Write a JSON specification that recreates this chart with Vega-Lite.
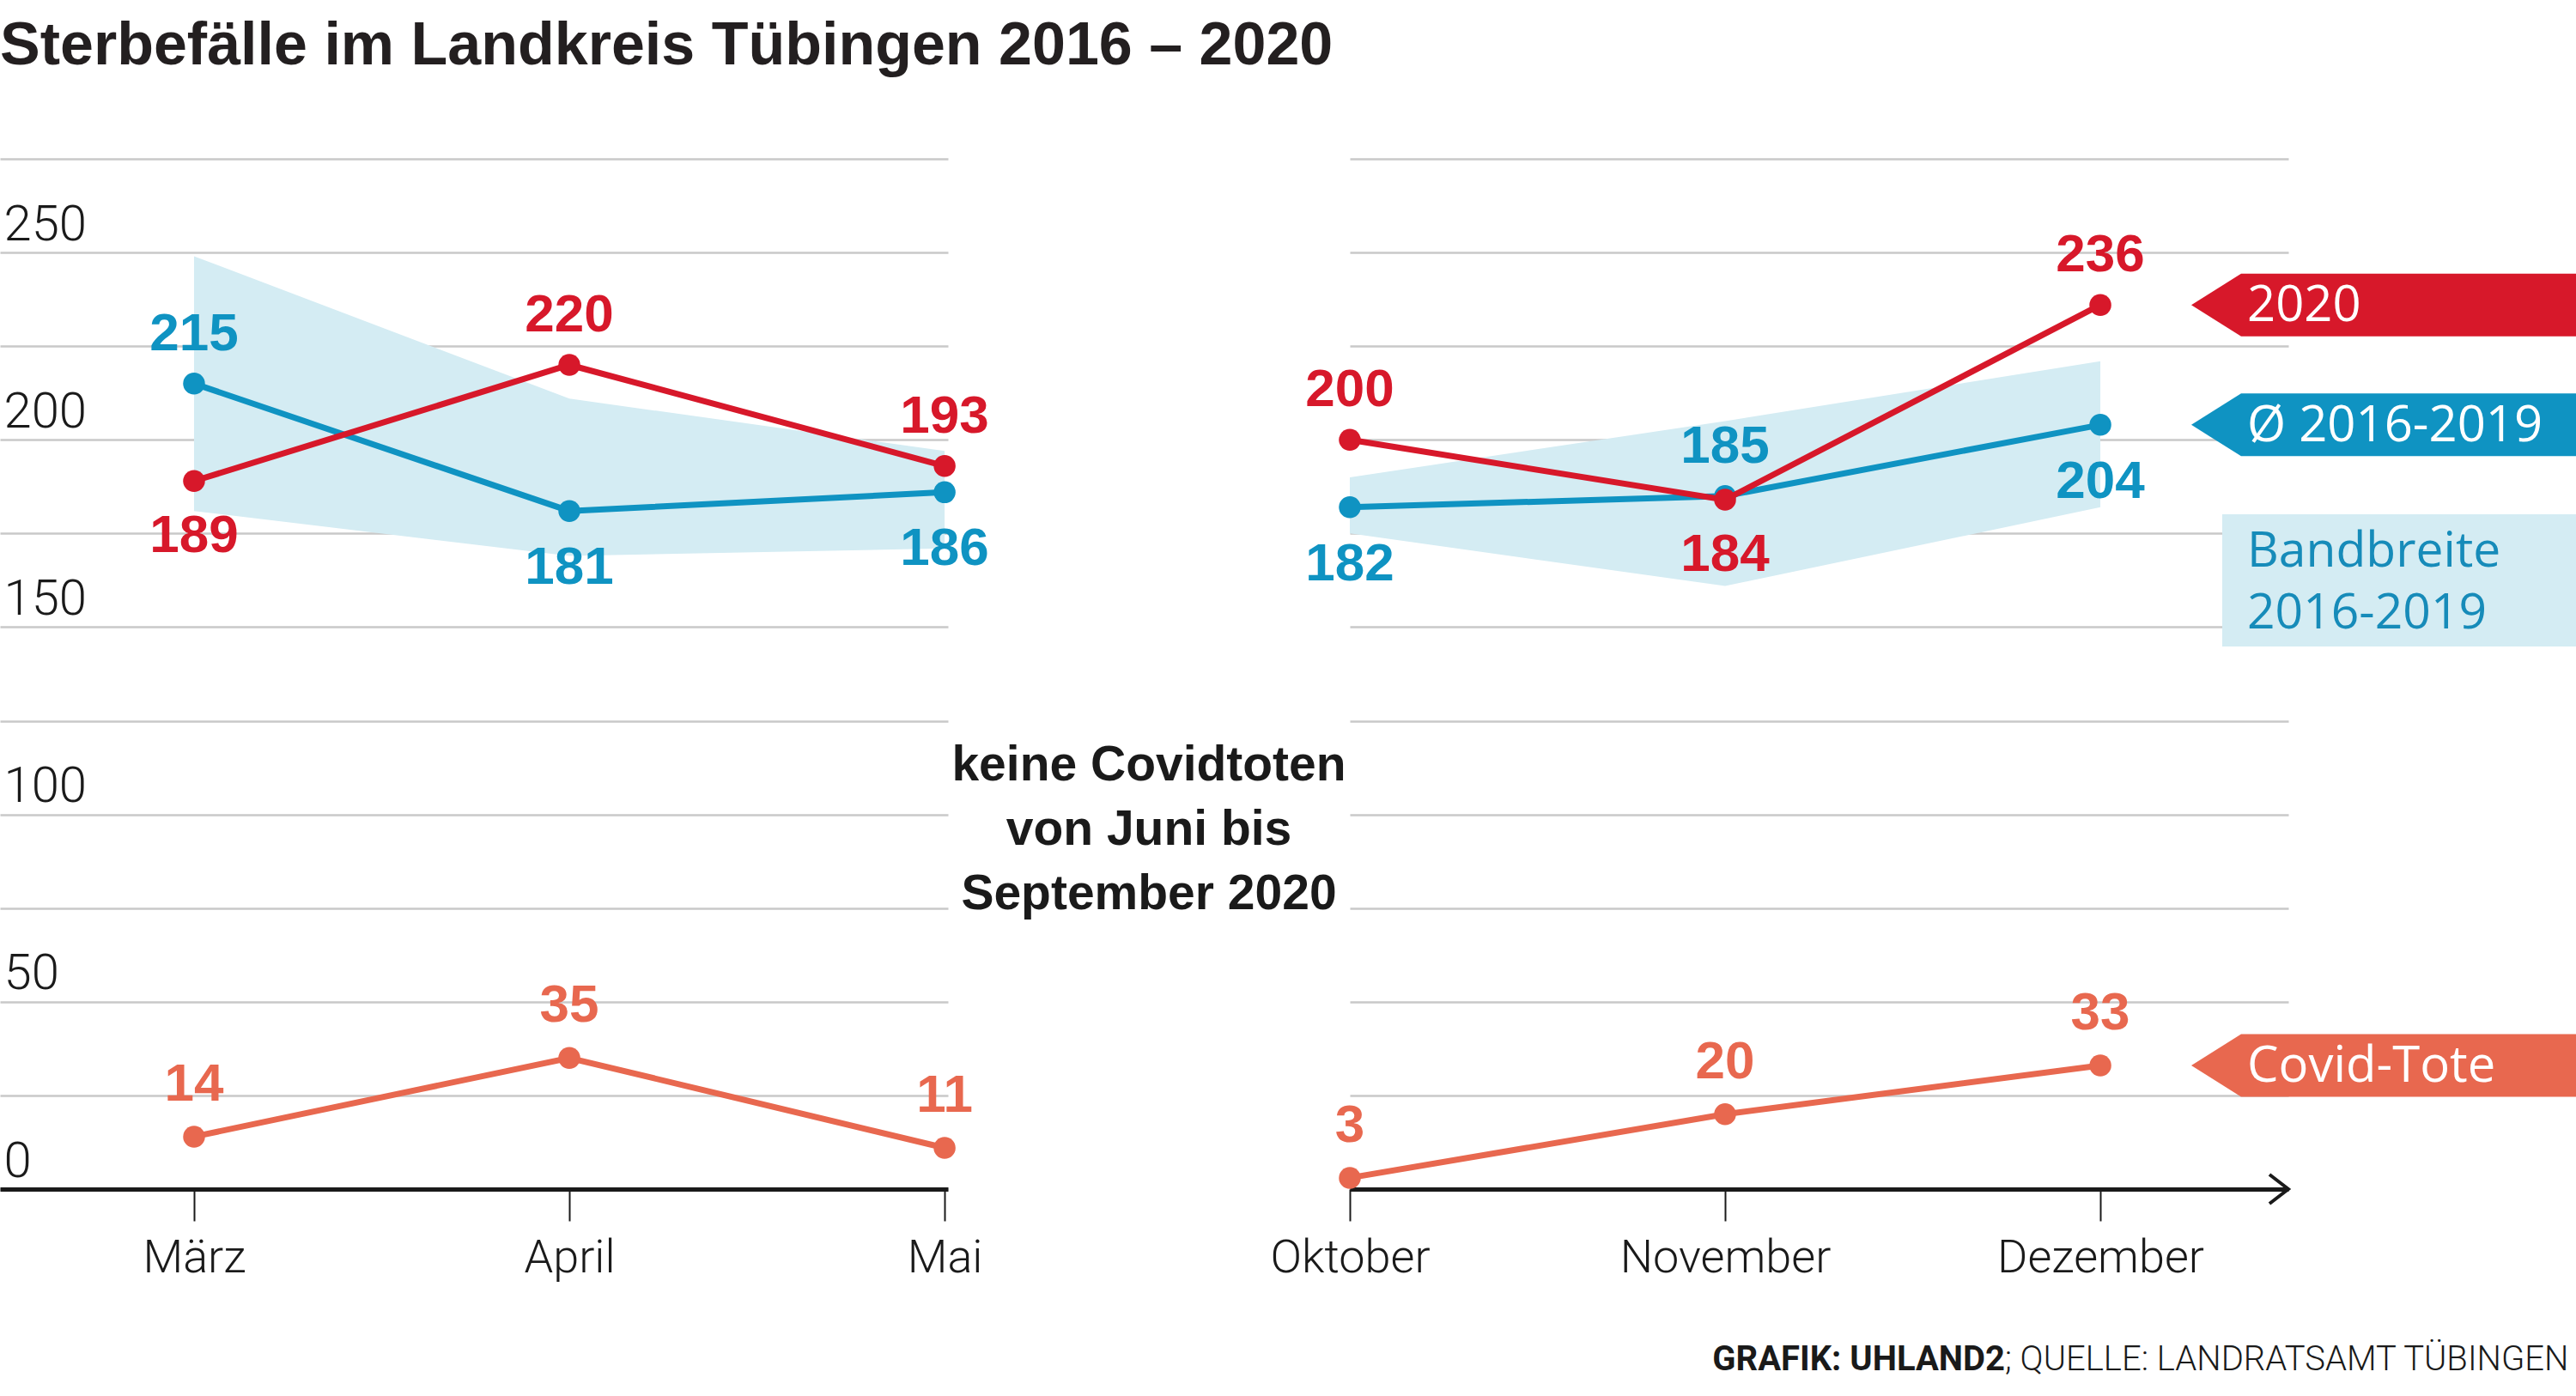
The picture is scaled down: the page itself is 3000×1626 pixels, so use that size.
{
  "$schema": "https://vega.github.io/schema/vega-lite/v6.json",
  "background": "white",
  "padding": {"top": 19, "left": 0, "right": 0, "bottom": 16},
  "autosize": {"type": "pad"},
  "bounds": "flush",
  "spacing": 0,
  "title": {
    "text": "Sterbefälle im Landkreis Tübingen 2016 – 2020",
    "anchor": "start",
    "font": "Liberation Sans",
    "fontSize": 70,
    "fontWeight": "bold",
    "color": "#231f20",
    "offset": 95
  },
  "config": {
    "view": {"stroke": null},
    "text": {"font": "Liberation Sans"}
  },
  "datasets": {
    "monate": [
      {"Monat": "März", "Abschnitt": "Frühjahr", "Jahr2020": 189, "Mittel": 215, "Min": 181, "Max": 249, "Covid": 14},
      {"Monat": "April", "Abschnitt": "Frühjahr", "Jahr2020": 220, "Mittel": 181, "Min": 169, "Max": 211, "Covid": 35},
      {"Monat": "Mai", "Abschnitt": "Frühjahr", "Jahr2020": 193, "Mittel": 186, "Min": 171, "Max": 197, "Covid": 11},
      {"Monat": "Oktober", "Abschnitt": "Herbst", "Jahr2020": 200, "Mittel": 182, "Min": 175, "Max": 190, "Covid": 3},
      {"Monat": "November", "Abschnitt": "Herbst", "Jahr2020": 184, "Mittel": 185, "Min": 161, "Max": 205, "Covid": 20},
      {"Monat": "Dezember", "Abschnitt": "Herbst", "Jahr2020": 236, "Mittel": 204, "Min": 182, "Max": 221, "Covid": 33}
    ]
  },
  "hconcat": [
    {
      "width": 1104,
      "height": 1200,
      "data": {"name": "monate"},
      "transform": [{"filter": "datum.Abschnitt == 'Frühjahr'"}],
      "encoding": {
        "x": {
          "field": "Monat", "type": "ordinal",
          "scale": {"type": "point", "domain": ["März", "April", "Mai"], "padding": 0.263, "align": 0.983},
          "axis": {
            "title": null, "grid": false, "labelAngle": 0, "labelLimit": 0,
            "domain": true, "domainColor": "#1a1a1a", "domainWidth": 5,
            "ticks": true, "tickColor": "#1a1a1a", "tickWidth": 2, "tickSize": 37,
            "labelPadding": 16, "labelFont": "Roboto", "labelFontWeight": 300,
            "labelFontSize": 54, "labelColor": "#1a1a1a"
          }
        }
      },
      "layer": [
        {
          "mark": {"type": "area", "color": "#d4ecf3", "opacity": 1},
          "encoding": {
            "y": {
              "field": "Min", "type": "quantitative",
              "scale": {"domain": [0, 275], "nice": false, "zero": false},
              "axis": {
                "title": null,
                "values": [0, 25, 50, 75, 100, 125, 150, 175, 200, 225, 250, 275],
                "labelExpr": "datum.value % 50 == 0 ? datum.label : ''",
                "grid": true, "gridColor": "#c9c9c9", "gridWidth": 2.5,
                "domain": false, "ticks": false, "tickSize": 0,
                "labelAlign": "left", "labelBaseline": "alphabetic",
                "labelPadding": -4, "labelOffset": -15,
                "labelFont": "Roboto", "labelFontWeight": 300,
                "labelFontSize": 58, "labelColor": "#1a1a1a"
              }
            },
            "y2": {"field": "Max"}
          }
        },
        {
          "mark": {"type": "line", "color": "#0f93c2", "strokeWidth": 7},
          "encoding": {"y": {"field": "Mittel", "type": "quantitative", "title": null, "scale": {"domain": [0, 275]}}}
        },
        {
          "mark": {"type": "point", "color": "#0f93c2", "filled": true, "opacity": 1, "size": 650},
          "encoding": {"y": {"field": "Mittel", "type": "quantitative", "title": null, "scale": {"domain": [0, 275]}}}
        },
        {
          "mark": {"type": "line", "color": "#d7182a", "strokeWidth": 7},
          "encoding": {"y": {"field": "Jahr2020", "type": "quantitative", "title": null, "scale": {"domain": [0, 275]}}}
        },
        {
          "mark": {"type": "point", "color": "#d7182a", "filled": true, "opacity": 1, "size": 650},
          "encoding": {"y": {"field": "Jahr2020", "type": "quantitative", "title": null, "scale": {"domain": [0, 275]}}}
        },
        {
          "mark": {"type": "line", "color": "#e8684f", "strokeWidth": 7},
          "encoding": {"y": {"field": "Covid", "type": "quantitative", "title": null, "scale": {"domain": [0, 275]}}}
        },
        {
          "mark": {"type": "point", "color": "#e8684f", "filled": true, "opacity": 1, "size": 650},
          "encoding": {"y": {"field": "Covid", "type": "quantitative", "title": null, "scale": {"domain": [0, 275]}}}
        },
        {
          "transform": [{"filter": "datum.Jahr2020 > datum.Mittel"}],
          "mark": {"type": "text", "color": "#d7182a", "fontWeight": "bold", "fontSize": 62, "baseline": "middle", "dy": -58},
          "encoding": {"y": {"field": "Jahr2020", "type": "quantitative", "title": null, "scale": {"domain": [0, 275]}}, "text": {"field": "Jahr2020"}}
        },
        {
          "transform": [{"filter": "datum.Jahr2020 < datum.Mittel"}],
          "mark": {"type": "text", "color": "#d7182a", "fontWeight": "bold", "fontSize": 62, "baseline": "middle", "dy": 64},
          "encoding": {"y": {"field": "Jahr2020", "type": "quantitative", "title": null, "scale": {"domain": [0, 275]}}, "text": {"field": "Jahr2020"}}
        },
        {
          "transform": [{"filter": "datum.Mittel > datum.Jahr2020"}],
          "mark": {"type": "text", "color": "#0f93c2", "fontWeight": "bold", "fontSize": 62, "baseline": "middle", "dy": -58},
          "encoding": {"y": {"field": "Mittel", "type": "quantitative", "title": null, "scale": {"domain": [0, 275]}}, "text": {"field": "Mittel"}}
        },
        {
          "transform": [{"filter": "datum.Mittel < datum.Jahr2020"}],
          "mark": {"type": "text", "color": "#0f93c2", "fontWeight": "bold", "fontSize": 62, "baseline": "middle", "dy": 66},
          "encoding": {"y": {"field": "Mittel", "type": "quantitative", "title": null, "scale": {"domain": [0, 275]}}, "text": {"field": "Mittel"}}
        },
        {
          "mark": {"type": "text", "color": "#e8684f", "fontWeight": "bold", "fontSize": 62, "baseline": "middle", "dy": -61},
          "encoding": {"y": {"field": "Covid", "type": "quantitative", "title": null, "scale": {"domain": [0, 275]}}, "text": {"field": "Covid"}}
        }
      ]
    },
    {
      "width": 468,
      "height": 1200,
      "data": {"values": [{}]},
      "mark": {"type": "text", "font": "Liberation Sans", "fontWeight": "bold", "fontSize": 57, "color": "#1a1a1a", "align": "center", "baseline": "middle", "lineHeight": 75},
      "encoding": {
        "y": {"datum": 113, "type": "quantitative", "scale": {"domain": [0, 275], "nice": false}, "axis": null},
        "text": {"value": ["keine Covidtoten", "von Juni bis", "September 2020"]}
      }
    },
    {
      "width": 1093,
      "height": 1200,
      "data": {"name": "monate"},
      "transform": [{"filter": "datum.Abschnitt == 'Herbst'"}],
      "encoding": {
        "x": {
          "field": "Monat", "type": "ordinal",
          "scale": {"type": "point", "domain": ["Oktober", "November", "Dezember"], "padding": 0.2505, "align": 0},
          "axis": {
            "title": null, "grid": false, "labelAngle": 0, "labelLimit": 0,
            "domain": true, "domainColor": "#1a1a1a", "domainWidth": 5,
            "ticks": true, "tickColor": "#1a1a1a", "tickWidth": 2, "tickSize": 37,
            "labelPadding": 16, "labelFont": "Roboto", "labelFontWeight": 300,
            "labelFontSize": 54, "labelColor": "#1a1a1a"
          }
        }
      },
      "layer": [
        {
          "mark": {"type": "area", "color": "#d4ecf3", "opacity": 1},
          "encoding": {
            "y": {
              "field": "Min", "type": "quantitative",
              "scale": {"domain": [0, 275], "nice": false, "zero": false},
              "axis": {
                "title": null,
                "values": [0, 25, 50, 75, 100, 125, 150, 175, 200, 225, 250, 275],
                "labels": false,
                "grid": true, "gridColor": "#c9c9c9", "gridWidth": 2.5,
                "domain": false, "ticks": false, "tickSize": 0
              }
            },
            "y2": {"field": "Max"}
          }
        },
        {
          "mark": {"type": "line", "color": "#0f93c2", "strokeWidth": 7},
          "encoding": {"y": {"field": "Mittel", "type": "quantitative", "title": null, "scale": {"domain": [0, 275]}}}
        },
        {
          "mark": {"type": "point", "color": "#0f93c2", "filled": true, "opacity": 1, "size": 650},
          "encoding": {"y": {"field": "Mittel", "type": "quantitative", "title": null, "scale": {"domain": [0, 275]}}}
        },
        {
          "mark": {"type": "line", "color": "#d7182a", "strokeWidth": 7},
          "encoding": {"y": {"field": "Jahr2020", "type": "quantitative", "title": null, "scale": {"domain": [0, 275]}}}
        },
        {
          "mark": {"type": "point", "color": "#d7182a", "filled": true, "opacity": 1, "size": 650},
          "encoding": {"y": {"field": "Jahr2020", "type": "quantitative", "title": null, "scale": {"domain": [0, 275]}}}
        },
        {
          "mark": {"type": "line", "color": "#e8684f", "strokeWidth": 7},
          "encoding": {"y": {"field": "Covid", "type": "quantitative", "title": null, "scale": {"domain": [0, 275]}}}
        },
        {
          "mark": {"type": "point", "color": "#e8684f", "filled": true, "opacity": 1, "size": 650},
          "encoding": {"y": {"field": "Covid", "type": "quantitative", "title": null, "scale": {"domain": [0, 275]}}}
        },
        {
          "transform": [{"filter": "datum.Jahr2020 > datum.Mittel"}],
          "mark": {"type": "text", "color": "#d7182a", "fontWeight": "bold", "fontSize": 62, "baseline": "middle", "dy": -58},
          "encoding": {"y": {"field": "Jahr2020", "type": "quantitative", "title": null, "scale": {"domain": [0, 275]}}, "text": {"field": "Jahr2020"}}
        },
        {
          "transform": [{"filter": "datum.Jahr2020 < datum.Mittel"}],
          "mark": {"type": "text", "color": "#d7182a", "fontWeight": "bold", "fontSize": 62, "baseline": "middle", "dy": 64},
          "encoding": {"y": {"field": "Jahr2020", "type": "quantitative", "title": null, "scale": {"domain": [0, 275]}}, "text": {"field": "Jahr2020"}}
        },
        {
          "transform": [{"filter": "datum.Mittel > datum.Jahr2020"}],
          "mark": {"type": "text", "color": "#0f93c2", "fontWeight": "bold", "fontSize": 62, "baseline": "middle", "dy": -58},
          "encoding": {"y": {"field": "Mittel", "type": "quantitative", "title": null, "scale": {"domain": [0, 275]}}, "text": {"field": "Mittel"}}
        },
        {
          "transform": [{"filter": "datum.Mittel < datum.Jahr2020"}],
          "mark": {"type": "text", "color": "#0f93c2", "fontWeight": "bold", "fontSize": 62, "baseline": "middle", "dy": 66},
          "encoding": {"y": {"field": "Mittel", "type": "quantitative", "title": null, "scale": {"domain": [0, 275]}}, "text": {"field": "Mittel"}}
        },
        {
          "mark": {"type": "text", "color": "#e8684f", "fontWeight": "bold", "fontSize": 62, "baseline": "middle", "dy": -61},
          "encoding": {"y": {"field": "Covid", "type": "quantitative", "title": null, "scale": {"domain": [0, 275]}}, "text": {"field": "Covid"}}
        },
        {
          "transform": [{"filter": "datum.Monat == 'Dezember'"}],
          "mark": {"type": "point", "shape": "M -1.13 0 L -0.55 -0.365 L 3.4 -0.365 L 3.4 0.365 L -0.55 0.365 Z", "size": 40000, "filled": true, "opacity": 1, "color": "#d7182a", "strokeWidth": 0},
          "encoding": {"x": {"value": "width"}, "y": {"field": "Jahr2020", "type": "quantitative", "title": null, "scale": {"domain": [0, 275]}}}
        },
        {
          "transform": [{"filter": "datum.Monat == 'Dezember'"}],
          "mark": {"type": "text", "font": "Open Sans", "fontWeight": 500, "fontSize": 58, "color": "white", "align": "left", "baseline": "middle", "dx": -48, "dy": 2},
          "encoding": {"x": {"value": "width"}, "y": {"field": "Jahr2020", "type": "quantitative", "title": null, "scale": {"domain": [0, 275]}}, "text": {"value": "2020"}}
        },
        {
          "transform": [{"filter": "datum.Monat == 'Dezember'"}],
          "mark": {"type": "point", "shape": "M -1.13 0 L -0.55 -0.365 L 3.4 -0.365 L 3.4 0.365 L -0.55 0.365 Z", "size": 40000, "filled": true, "opacity": 1, "color": "#0f93c2", "strokeWidth": 0},
          "encoding": {"x": {"value": "width"}, "y": {"field": "Mittel", "type": "quantitative", "title": null, "scale": {"domain": [0, 275]}}}
        },
        {
          "transform": [{"filter": "datum.Monat == 'Dezember'"}],
          "mark": {"type": "text", "font": "Open Sans", "fontWeight": 500, "fontSize": 58, "color": "white", "align": "left", "baseline": "middle", "dx": -48, "dy": 2},
          "encoding": {"x": {"value": "width"}, "y": {"field": "Mittel", "type": "quantitative", "title": null, "scale": {"domain": [0, 275]}}, "text": {"value": "Ø 2016-2019"}}
        },
        {
          "transform": [{"filter": "datum.Monat == 'Dezember'"}],
          "mark": {"type": "point", "shape": "M -1.13 0 L -0.55 -0.365 L 3.4 -0.365 L 3.4 0.365 L -0.55 0.365 Z", "size": 40000, "filled": true, "opacity": 1, "color": "#e8684f", "strokeWidth": 0},
          "encoding": {"x": {"value": "width"}, "y": {"field": "Covid", "type": "quantitative", "title": null, "scale": {"domain": [0, 275]}}}
        },
        {
          "transform": [{"filter": "datum.Monat == 'Dezember'"}],
          "mark": {"type": "text", "font": "Open Sans", "fontWeight": 500, "fontSize": 58, "color": "white", "align": "left", "baseline": "middle", "dx": -48, "dy": 2},
          "encoding": {"x": {"value": "width"}, "y": {"field": "Covid", "type": "quantitative", "title": null, "scale": {"domain": [0, 275]}}, "text": {"value": "Covid-Tote"}}
        },
        {
          "transform": [{"filter": "datum.Monat == 'Dezember'"}],
          "mark": {"type": "point", "shape": "M -0.77 -0.77 L 3.4 -0.77 L 3.4 0.77 L -0.77 0.77 Z", "size": 40000, "filled": true, "opacity": 1, "color": "#d4ecf3", "strokeWidth": 0},
          "encoding": {"x": {"value": "width"}, "y": {"datum": 162.5, "type": "quantitative", "title": null, "scale": {"domain": [0, 275]}}}
        },
        {
          "transform": [{"filter": "datum.Monat == 'Dezember'"}],
          "mark": {"type": "text", "font": "Open Sans", "fontWeight": 500, "fontSize": 57, "color": "#168bb9", "align": "left", "baseline": "middle", "dx": -48, "dy": -33, "lineHeight": 72},
          "encoding": {"x": {"value": "width"}, "y": {"datum": 162.5, "type": "quantitative", "title": null, "scale": {"domain": [0, 275]}}, "text": {"value": ["Bandbreite", "2016-2019"]}}
        },
        {
          "transform": [{"filter": "datum.Monat == 'Dezember'"}],
          "mark": {"type": "point", "shape": "M -0.22 -0.17 L 0 0 L -0.22 0.17", "size": 40000, "filled": false, "opacity": 1, "color": "#1a1a1a", "strokeWidth": 4},
          "encoding": {"x": {"value": "width"}, "y": {"datum": 0, "type": "quantitative", "title": null, "scale": {"domain": [0, 275]}}}
        },
        {
          "transform": [{"filter": "datum.Monat == 'Dezember'"}],
          "mark": {"type": "text", "font": "Roboto", "fontWeight": "bold", "fontSize": 40, "color": "#1a1a1a", "align": "right", "baseline": "alphabetic", "dx": -330, "dy": 211},
          "encoding": {"x": {"value": "width"}, "y": {"value": "height"}, "text": {"value": "GRAFIK: UHLAND2"}}
        },
        {
          "transform": [{"filter": "datum.Monat == 'Dezember'"}],
          "mark": {"type": "text", "font": "Roboto", "fontWeight": 300, "fontSize": 40, "color": "#1a1a1a", "align": "left", "baseline": "alphabetic", "dx": -330, "dy": 211},
          "encoding": {"x": {"value": "width"}, "y": {"value": "height"}, "text": {"value": "; QUELLE: LANDRATSAMT TÜBINGEN"}}
        }
      ]
    }
  ]
}
